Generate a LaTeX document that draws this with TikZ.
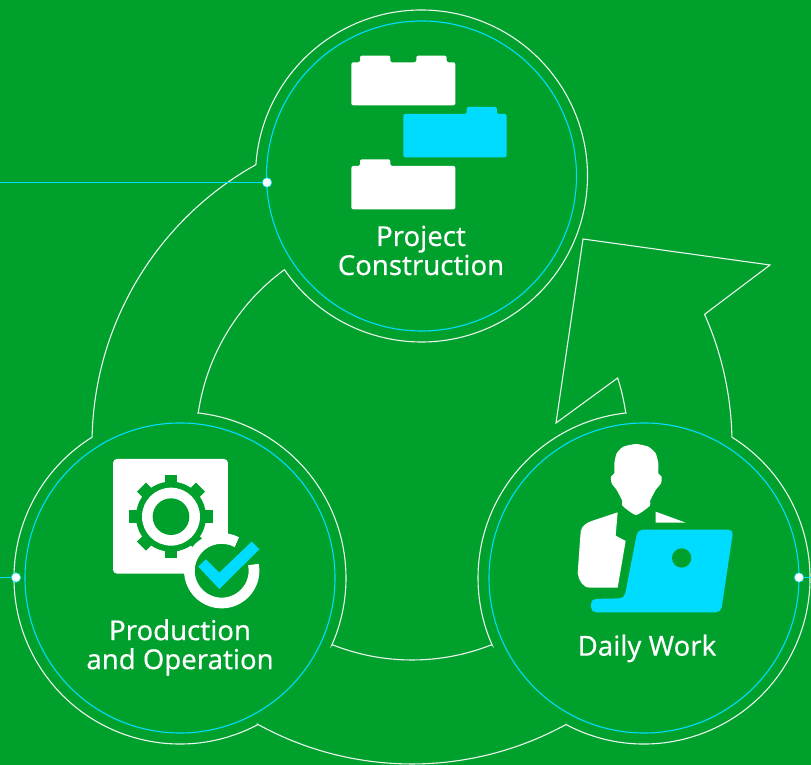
\documentclass[tikz,border=0pt]{standalone}
\usepackage{fontspec}
\usetikzlibrary{calc}
\setmainfont{Noto Sans}
\newfontfamily\lblfont[FakeBold=0.25]{Noto Sans}
\definecolor{bg}{RGB}{0,160,45}
\definecolor{cy}{RGB}{0,220,255}
\tikzset{
  outline/.style={draw=white!92!bg,line width=1.1pt,line join=miter},
  ring/.style={draw=cy,line width=1.1pt},
  lbl/.style={text=white,font=\lblfont\fontsize{27.5}{29}\selectfont,align=center,inner sep=0pt},
  dot/.style={circle,fill=white,draw=cy,line width=.6pt,minimum size=9.5pt,inner sep=0pt},
  wfill/.style={fill=white,rounded corners=2pt},
  cfill/.style={fill=cy,rounded corners=2pt}
}
\begin{document}
\begin{tikzpicture}[x=1pt,y=1pt]
\useasboundingbox (0,0) rectangle (811,765);
\fill[bg] (0,0) rectangle (811,765);
\coordinate (T) at (421.5,589);
\coordinate (L) at (180,187);
\coordinate (R) at (644,187);
\coordinate (O) at (412,321);
% outline
\draw[outline]
  ($(O)+(119.2:320)$) arc[start angle=119.2,end angle=178.75,radius=320]
  -- ($(L)+(122:166)$) arc[start angle=122,end angle=298,radius=166]
  -- ($(O)+(241.2:320)$) arc[start angle=241.2,end angle=298.8,radius=320]
  -- ($(R)+(242.1:166)$) arc[start angle=242.1,end angle=418,radius=166]
  -- ($(O)+(1.25:320)$) arc[start angle=1.25,end angle=23.9,radius=320]
  -- (770,500) -- (583,526) -- (556,342)
  -- ($(O)+(17.8:216)$) arc[start angle=17.8,end angle=8.5,radius=216]
  -- ($(R)+(96.2:166)$) arc[start angle=96.2,end angle=203.8,radius=166]
  -- ($(O)+(-68.3:216)$) arc[start angle=-68.3,end angle=-111.7,radius=216]
  -- ($(L)+(-23.8:166)$) arc[start angle=-23.8,end angle=83.8,radius=166]
  -- ($(O)+(171.5:216)$) arc[start angle=171.5,end angle=126.3,radius=216]
  -- ($(T)+(214.4:166)$) arc[start angle=214.4,end angle=536.2,radius=166]
  -- cycle;
% inner rings
\draw[ring] (T) circle (155);
\draw[ring] (L) circle (155);
\draw[ring] (R) circle (155);
% connectors
\coordinate (el) at (0,582.5);
\coordinate (el2) at (0,187.5);
\coordinate (er) at (811,187.5);
\node[dot] (dt) at (267,582.5) {};
\node[dot] (dl) at (16,187.5) {};
\node[dot] (dr) at (799,187.5) {};
\draw[ring] (el) -- (dt);
\draw[ring] (el2) -- (dl);
\draw[ring] (dr) -- (er);
% blocks (zoom coordinates)
\begin{scope}[shift={(340,725)},x=0.3333pt,y=-0.3333pt]
  \fill[wfill] (34,67)--(60,67)--(60,47)--(151,47)--(151,67)--(229,67)--(229,47)--(320,47)--(320,67)--(346,67)--(346,196)--(34,196)--cycle;
  \fill[cfill] (190,222)--(380,222)--(380,201)--(471,201)--(471,222)--(500,222)--(500,352)--(190,352)--cycle;
  \fill[wfill] (34,378)--(60,378)--(60,358)--(151,358)--(151,378)--(346,378)--(346,508)--(34,508)--cycle;
\end{scope}
% gear icon
\begin{scope}[shift={(100,315)},x=0.3333pt,y=-0.3333pt]
  \fill[white,rounded corners=4pt] (39,27)--(384,27)--(384,371)--(39,371)--cycle;
  \fill[bg] (213,200) circle (105);
  \foreach \a in {0,45,...,315}{
    \fill[bg,shift={(213,200)},rotate=\a] (-19,-125) rectangle (19,0);
  }
  \fill[white] (213,200) circle (87);
  \fill[bg] (213,200) circle (55);
  \fill[bg] (365,362) circle (81);
\end{scope}
\draw[white,line width=10.7pt] (221.7,194.3)++(11:32.3) arc[start angle=11,end angle=-298,radius=32.3];
\begin{scope}[shift={(100,315)},x=0.3333pt,y=-0.3333pt]
  \fill[cy] (295,350)--(318,328)--(358,368)--(455,275)--(478,298)--(358,417)--cycle;
\end{scope}
% person icon
\begin{scope}[shift={(565,330)},x=0.3333pt,y=-0.3333pt]
  \fill[white] plot[smooth cycle,tension=.35] coordinates {(213,27)(175,35)(155,55)(148,85)(148,115)(138,125)(140,145)(155,165)(172,198)(172,212)(213,240)(255,212)(255,198)(272,165)(288,145)(290,125)(280,115)(280,85)(272,55)(250,35)};
  \fill[white] (158,232)--(80,258) to[out=200,in=80] (47,290)--(38,415) to[out=-80,in=180] (75,458)--(158,458)--(182,318)--(152,302)--cycle;
  \fill[white] (272,230)--(362,263)--(272,263)--cycle;
  \fill[cy,rounded corners=5pt] (218,284)--(505,284)--(468,532)--(78,532)--(78,492)--(178,490)--cycle;
  \fill[bg] (350,369) circle (29);
\end{scope}
% labels
\node[lbl] (a) at (421,514.5) {Project\\Construction};
\node[lbl] (b) at (180,117.5) {Production\\and Operation};
\node[lbl] (c) at (647,116.5) {Daily Work};
\end{tikzpicture}
\end{document}
